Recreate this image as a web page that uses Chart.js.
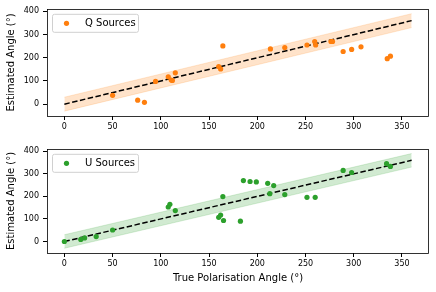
<!DOCTYPE html>
<html>
<head>
<meta charset="utf-8">
<script src="https://cdn.jsdelivr.net/npm/chart.js@4"></script>
<style>
  body { margin: 0; background: #fff; }
  #wrap { position: relative; width: 436px; height: 292px; }
  canvas { position: absolute; left: 0; }
</style>
</head>
<body>
<div id="wrap">
  <canvas id="chartQ" width="436" height="140" style="top:0"></canvas>
  <canvas id="chartU" width="436" height="152" style="top:140px"></canvas>
</div>
<script>
// Datos
const qTrue = [50, 76, 83, 94.5, 107.7, 110.8, 112, 115, 160, 162, 164.3, 213.6, 228.5, 251.5, 259.5, 260.5, 276.4, 278, 289, 297.8, 307.5, 334.7, 338];
const qEst  = [38, 17, 8, 98, 118, 104, 102, 135, 162, 152, 251, 238, 244, 255, 270, 255, 270, 270, 227, 236, 247, 196, 207];

const uTrue = [0, 17, 21, 33, 50, 107.7, 109.4, 115, 160, 162, 164.3, 165, 182.5, 185.6, 192.5, 199, 210.8, 217, 213, 228.5, 251.5, 260, 289, 297.8, 334, 338];
const uEst  = [0, 9, 16, 22, 51, 153, 165, 137, 107, 117, 199, 93, 90, 270, 266, 264, 258, 248, 212, 208, 196, 196, 315, 306, 345, 333];

// Recta y = x y banda de +-30 grados
const fitX = [0, 360];
const fitY = [0, 360];
const bandLow = [-30, 330];
const bandHigh = [30, 390];

const xTicks = [0, 50, 100, 150, 200, 250, 300, 350];
const yTicks = [0, 100, 200, 300, 400];

const toPts = (xs, ys) => xs.map((x, i) => ({ x: x, y: ys[i] }));

// Caja alrededor del área del gráfico y leyenda dentro
const boxPlugin = {
  id: 'box',
  afterDraw(chart, args, opts) {
    const a = chart.chartArea;
    const c = chart.ctx;
    c.save();
    c.strokeStyle = '#000';
    c.lineWidth = 0.8;
    c.strokeRect(Math.round(a.left) + 0.5, Math.round(a.top) + 0.5,
                 Math.round(a.right - a.left) - 1, Math.round(a.bottom - a.top));
    // leyenda
    const lx = a.left + 5, ly = a.top + 5, lw = 86, lh = 18;
    c.fillStyle = 'rgba(255,255,255,0.8)';
    c.strokeStyle = '#d0d0d0';
    c.lineWidth = 1;
    c.beginPath();
    c.roundRect(lx + 0.5, ly + 0.5, lw, lh, 2);
    c.fill();
    c.stroke();
    c.fillStyle = opts.color;
    c.beginPath();
    c.arc(lx + 14.5, ly + 9.5, 2.6, 0, Math.PI * 2);
    c.fill();
    c.fillStyle = '#000';
    c.font = '10px "DejaVu Sans"';
    c.textBaseline = 'middle';
    c.fillText(opts.label, lx + 33, ly + 10);
    c.restore();
  }
};

function makeChart(id, xs, ys, color, fillColor, label, padTop, xHeight, showXTitle) {
  const ctx = document.getElementById(id).getContext('2d');
  return new Chart(ctx, {
    type: 'scatter',
    data: {
      datasets: [
        {
          type: 'scatter',
          data: toPts(xs, ys),
          backgroundColor: color,
          borderWidth: 0,
          pointRadius: 2.6,
          order: 0
        },
        {
          type: 'line',
          data: toPts(fitX, fitY),
          borderColor: '#000',
          borderWidth: 1.5,
          borderDash: [5.5, 2.5],
          pointRadius: 0,
          fill: false,
          order: 1
        },
        {
          type: 'line',
          data: toPts(fitX, bandLow),
          borderColor: fillColor,
          borderWidth: 0.8,
          pointRadius: 0,
          fill: false,
          order: 3
        },
        {
          type: 'line',
          data: toPts(fitX, bandHigh),
          borderColor: fillColor,
          borderWidth: 0.8,
          backgroundColor: fillColor,
          pointRadius: 0,
          fill: '-1',
          order: 2
        }
      ]
    },
    options: {
      responsive: false,
      animation: false,
      events: [],
      layout: { padding: { top: padTop, right: 7, left: 0, bottom: 0 } },
      plugins: {
        legend: { display: false },
        tooltip: { enabled: false },
        box: { color: color, label: label }
      },
      scales: {
        x: {
          type: 'linear',
          min: -18,
          max: 378,
          afterBuildTicks: s => { s.ticks = xTicks.map(v => ({ value: v })); },
          afterFit: s => { s.height = xHeight; },
          grid: { drawOnChartArea: false, tickLength: 4, color: '#000' },
          border: { display: false },
          ticks: { color: '#000', padding: 2, font: { family: 'DejaVu Sans', size: 8 } },
          title: {
            display: showXTitle,
            text: 'True Polarisation Angle (°)',
            color: '#000',
            font: { family: 'DejaVu Sans', size: 10 },
            padding: { top: 0, bottom: 8 }
          }
        },
        y: {
          type: 'linear',
          min: -51,
          max: 411,
          afterBuildTicks: s => { s.ticks = yTicks.map(v => ({ value: v })); },
          afterFit: s => { s.width = 47; },
          grid: { drawOnChartArea: false, tickLength: 4, color: '#000' },
          border: { display: false },
          ticks: { color: '#000', padding: 4, font: { family: 'DejaVu Sans', size: 8 } },
          title: {
            display: true,
            text: 'Estimated Angle (°)',
            color: '#000',
            font: { family: 'DejaVu Sans', size: 10 },
            padding: { top: 5, bottom: 0 }
          }
        }
      }
    },
    plugins: [boxPlugin]
  });
}

makeChart('chartQ', qTrue, qEst, '#ff7f0e', 'rgba(255,127,14,0.22)', 'Q Sources', 8, 24, false);
makeChart('chartU', uTrue, uEst, '#2ca02c', 'rgba(44,160,44,0.22)', 'U Sources', 5, 39, true);
</script>
</body>
</html>
